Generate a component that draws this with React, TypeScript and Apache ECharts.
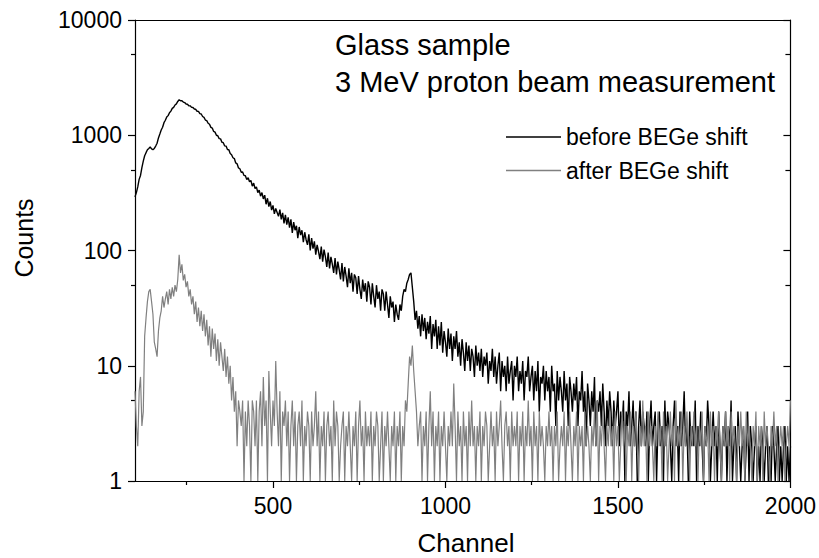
import React, { useEffect, useRef } from "react";
import * as echarts from "echarts";

const CHANNEL_START = 100;
const CHANNEL_STEP = 4;

// counts before BEGe shift, one value every 4 channels from 100 to 2000
const beforeShift = [
  292, 318, 356, 414, 448, 524, 596, 664, 706, 748,
  768, 790, 762, 750, 768, 806, 852, 948, 1025, 1110,
  1172, 1285, 1350, 1440, 1480, 1570, 1620, 1710, 1745, 1830,
  1870, 1965, 2030, 1990, 1995, 1940, 1920, 1865, 1860, 1805,
  1800, 1745, 1740, 1690, 1680, 1615, 1610, 1540, 1530, 1455,
  1430, 1355, 1340, 1270, 1245, 1170, 1155, 1080, 1065, 1000,
  990, 935, 930, 870, 862, 808, 805, 752, 748, 695,
  678, 638, 628, 575, 565, 520, 512, 478, 480, 448,
  445, 412, 428, 395, 405, 362, 384, 345, 356, 318,
  334, 296, 318, 280, 302, 252, 284, 240, 266, 224,
  246, 208, 232, 214, 198, 226, 186, 212, 172, 204,
  168, 194, 158, 186, 142, 176, 150, 164, 128, 160,
  136, 150, 118, 144, 124, 112, 138, 100, 128, 104,
  120, 92, 112, 98, 84, 108, 80, 102, 88, 72,
  96, 70, 88, 76, 64, 86, 62, 80, 68, 56,
  78, 54, 72, 60, 48, 70, 52, 64, 44, 62,
  58, 42, 60, 46, 38, 56, 44, 52, 36, 54,
  48, 34, 52, 40, 32, 50, 38, 44, 30, 46,
  42, 30, 44, 34, 26, 40, 32, 36, 24, 34,
  28, 25, 34, 30, 40, 46, 44, 52, 56, 62,
  64, 48, 36, 25, 30, 21, 27, 18, 28, 20,
  26, 17, 24, 19, 27, 14, 23, 18, 25, 14,
  22, 15, 24, 13, 20, 16, 12, 21, 14, 19,
  11, 18, 14, 20, 12, 16, 10, 17, 13, 9,
  16, 11, 15, 9, 14, 12, 8, 15, 10, 13,
  9, 14, 8, 12, 10, 13, 7, 11, 9, 14,
  8, 12, 7, 10, 13, 6, 11, 8, 10, 6,
  12, 7, 9, 11, 5, 10, 8, 12, 6, 9,
  7, 11, 5, 9, 8, 12, 6, 8, 10, 5,
  9, 6, 11, 4, 8, 7, 10, 5, 9, 6,
  8, 4, 10, 6, 7, 3, 9, 5, 8, 6,
  4, 9, 5, 7, 3, 8, 6, 4, 7, 5,
  8, 3, 6, 5, 9, 4, 6, 2, 7, 5,
  3, 6, 4, 8, 2, 5, 4, 6, 3, 7,
  4, 2, 5, 3, 6, 4, 2, 5, 3, 4,
  6, 2, 4, 3, 5, 1, 4, 3, 6, 2,
  3, 5, 2, 4, 1, 3, 5, 2, 4, 3,
  2, 4, 1, 3, 5, 2, 3, 4, 1, 3,
  4, 2, 3, 1, 5, 2, 4, 3, 2, 1,
  3, 5, 2, 3, 1, 4, 2, 3, 6, 2,
  3, 1, 4, 2, 3, 2, 5, 1, 3, 2,
  4, 2, 1, 3, 2, 5, 3, 1, 2, 4,
  2, 3, 1, 4, 2, 1, 3, 2, 4, 1,
  3, 2, 5, 1, 2, 3, 1, 4, 2, 1,
  2, 3, 1, 2, 4, 1, 3, 2, 1, 2,
  3, 1, 2, 1, 3, 2, 1, 2, 3, 1,
  2, 1, 3, 2, 1, 2, 3, 1, 2, 1,
  2, 3, 1, 2, 1, 2,
];

// counts after BEGe shift, one value every 4 channels from 100 to 2000
const afterShift = [
  6, 3, 2, 6, 8, 3, 4, 18, 26, 36,
  44, 46, 36, 28, 16, 14, 12, 20, 26, 30,
  40, 32, 38, 44, 34, 46, 38, 48, 40, 50,
  44, 56, 92, 64, 76, 55, 62, 48, 54, 40,
  46, 34, 40, 28, 36, 24, 32, 22, 30, 20,
  28, 18, 25, 15, 22, 12, 21, 14, 19, 11,
  17, 10, 16, 12, 9, 14, 8, 12, 7, 10,
  5, 8, 4, 6, 2, 5, 4, 3, 5, 1,
  4, 2, 5, 3, 1, 5, 4, 2, 5, 1,
  4, 6, 2, 8, 3, 5, 1, 9, 4, 2,
  5, 3, 11, 4, 2, 6, 1, 4, 3, 5,
  2, 4, 1, 3, 5, 2, 4, 1, 3, 4,
  2, 5, 1, 3, 2, 4, 3, 1, 4, 2,
  3, 6, 2, 4, 1, 3, 2, 4, 1, 3,
  4, 2, 3, 1, 5, 2, 4, 3, 1, 2,
  3, 4, 1, 3, 2, 4, 2, 1, 3, 2,
  4, 1, 3, 5, 2, 3, 1, 4, 2, 3,
  2, 4, 1, 3, 2, 4, 3, 1, 2, 4,
  1, 3, 2, 4, 2, 1, 3, 2, 4, 1,
  3, 2, 4, 1, 3, 2, 5, 4, 7, 12,
  10, 15, 9, 6, 4, 2, 3, 4, 1, 3,
  2, 4, 1, 3, 6, 2, 4, 1, 3, 2,
  4, 1, 3, 2, 4, 2, 1, 3, 2, 4,
  2, 7, 3, 1, 4, 2, 3, 1, 4, 2,
  3, 1, 4, 2, 5, 2, 3, 1, 3, 2,
  4, 1, 3, 2, 4, 3, 1, 2, 4, 2,
  3, 1, 4, 2, 3, 5, 2, 1, 3, 4,
  2, 3, 1, 4, 2, 3, 2, 4, 1, 3,
  2, 4, 1, 3, 2, 5, 2, 3, 1, 4,
  2, 3, 1, 4, 2, 3, 2, 1, 3, 2,
  4, 2, 3, 1, 3, 2, 4, 1, 2, 3,
  2, 4, 1, 3, 2, 4, 2, 1, 3, 2,
  4, 1, 3, 2, 3, 1, 4, 2, 3, 2,
  1, 3, 2, 4, 2, 5, 1, 3, 2, 4,
  2, 1, 3, 2, 4, 2, 3, 1, 4, 2,
  3, 1, 2, 4, 2, 3, 1, 3, 2, 4,
  1, 3, 2, 4, 2, 1, 3, 2, 5, 2,
  3, 1, 4, 2, 3, 2, 1, 3, 2, 4,
  2, 3, 1, 4, 2, 3, 1, 2, 4, 2,
  3, 1, 5, 2, 3, 2, 4, 1, 3, 2,
  4, 2, 1, 3, 2, 4, 2, 3, 1, 3,
  2, 4, 1, 3, 2, 3, 1, 4, 2, 3,
  1, 3, 2, 4, 2, 1, 3, 2, 4, 2,
  3, 1, 4, 2, 3, 2, 1, 3, 2, 4,
  2, 3, 1, 4, 2, 3, 2, 1, 3, 2,
  4, 1, 3, 2, 3, 1, 4, 2, 3, 2,
  1, 3, 2, 4, 2, 3, 1, 2, 3, 2,
  3, 1, 2, 3, 2, 5,
];

const SERIES_NAMES = ["before BEGe shift", "after BEGe shift"];
const X_MIN = 100;
const X_MAX = 2000;
const X_MAJOR_TICKS = [500, 1000, 1500, 2000];
const X_MINOR_TICKS = [250, 750, 1250, 1750];
const Y_MIN = 1;
const Y_MAX = 10000;
const Y_MINOR_TICKS = [5, 50, 500, 5000];
const ANNOTATION_LINES = ["Glass sample", "3 MeV proton beam measurement"];
const X_TITLE = "Channel";
const Y_TITLE = "Counts";

const FONT = "'Liberation Sans', Arial, Helvetica, sans-serif";

const toPairs = (vals: number[]) =>
  vals.map((v, i) => [CHANNEL_START + i * CHANNEL_STEP, v]);

export default function App() {
  const ref = useRef<HTMLDivElement>(null);

  useEffect(() => {
    if (!ref.current) return;
    const chart = echarts.init(ref.current, undefined, { renderer: "svg" });
    const logMin = Math.log10(Y_MIN);
    const logMax = Math.log10(Y_MAX);
    const minorLog = Y_MINOR_TICKS.map((v) => Math.log10(v));
    const axisLineStyle = { color: "#000", width: 1.2 };
    const tickLine = { color: "#000", width: 1.2 };

    const option: any = {
      animation: false,
      backgroundColor: "#fff",
      textStyle: { fontFamily: FONT },
      grid: { left: 135, right: 22, top: 20, bottom: 77, containLabel: false },
      legend: {
        data: SERIES_NAMES,
        orient: "vertical",
        left: 501,
        top: 120.5,
        padding: 5,
        icon: "rect",
        itemWidth: 55,
        itemHeight: 1.5,
        itemGap: 10.5,
        textStyle: { fontSize: 23, color: "#000", fontFamily: FONT, lineHeight: 23 },
      },
      xAxis: [
        {
          type: "value",
          position: "bottom",
          min: X_MIN,
          max: X_MAX,
          axisLine: { show: true, lineStyle: axisLineStyle },
          axisTick: { show: true, length: 7, customValues: X_MAJOR_TICKS, lineStyle: tickLine },
          axisLabel: {
            customValues: X_MAJOR_TICKS,
            formatter: (v: number) => String(v),
            fontSize: 23,
            color: "#000",
            fontFamily: FONT,
            margin: 13,
          },
          splitLine: { show: false },
        },
        {
          type: "value",
          position: "bottom",
          min: X_MIN,
          max: X_MAX,
          axisLine: { show: false },
          axisTick: { show: true, length: 4, customValues: X_MINOR_TICKS, lineStyle: tickLine },
          axisLabel: { show: false },
          splitLine: { show: false },
        },
        {
          type: "value",
          position: "top",
          min: X_MIN,
          max: X_MAX,
          axisLine: { show: true, lineStyle: axisLineStyle },
          axisTick: { show: false },
          axisLabel: { show: false },
          splitLine: { show: false },
        },
      ],
      yAxis: [
        {
          type: "log",
          logBase: 10,
          position: "left",
          min: Y_MIN,
          max: Y_MAX,
          axisLine: { show: true, lineStyle: axisLineStyle },
          axisTick: { show: true, length: 7, lineStyle: tickLine },
          axisLabel: {
            formatter: (v: number) => String(Math.round(v)),
            fontSize: 23,
            color: "#000",
            fontFamily: FONT,
            margin: 13,
          },
          splitLine: { show: false },
          minorTick: { show: false },
        },
        {
          type: "value",
          position: "left",
          min: logMin,
          max: logMax,
          axisLine: { show: false },
          axisTick: { show: true, length: 4, customValues: minorLog, lineStyle: tickLine },
          axisLabel: { show: false },
          splitLine: { show: false },
        },
        {
          type: "log",
          logBase: 10,
          position: "right",
          min: Y_MIN,
          max: Y_MAX,
          axisLine: { show: true, lineStyle: axisLineStyle },
          axisTick: { show: true, inside: true, length: 7, lineStyle: tickLine },
          axisLabel: { show: false },
          splitLine: { show: false },
        },
        {
          type: "value",
          position: "right",
          min: logMin,
          max: logMax,
          axisLine: { show: false },
          axisTick: { show: true, inside: true, length: 5, customValues: minorLog, lineStyle: tickLine },
          axisLabel: { show: false },
          splitLine: { show: false },
        },
      ],
      series: [
        {
          name: SERIES_NAMES[0],
          type: "line",
          xAxisIndex: 0,
          yAxisIndex: 0,
          data: toPairs(beforeShift),
          showSymbol: false,
          symbol: "none",
          color: "#000000",
          lineStyle: { color: "#000000", width: 1.4 },
          z: 2,
        },
        {
          name: SERIES_NAMES[1],
          type: "line",
          xAxisIndex: 0,
          yAxisIndex: 0,
          data: toPairs(afterShift),
          showSymbol: false,
          symbol: "none",
          color: "#808080",
          lineStyle: { color: "#808080", width: 1.2 },
          z: 3,
        },
      ],
      graphic: [
        {
          type: "text",
          x: 335,
          y: 45,
          style: {
            text: ANNOTATION_LINES[0],
            font: `29px ${FONT}`,
            fill: "#000",
            verticalAlign: "middle",
          },
        },
        {
          type: "text",
          x: 335,
          y: 82,
          style: {
            text: ANNOTATION_LINES[1],
            font: `29px ${FONT}`,
            fill: "#000",
            verticalAlign: "middle",
          },
        },
        {
          type: "text",
          x: 466,
          y: 543,
          style: {
            text: X_TITLE,
            font: `26px ${FONT}`,
            fill: "#000",
            align: "center",
            verticalAlign: "middle",
          },
        },
        {
          type: "text",
          x: 24,
          y: 238,
          rotation: Math.PI / 2,
          style: {
            text: Y_TITLE,
            font: `25px ${FONT}`,
            fill: "#000",
            align: "center",
            verticalAlign: "middle",
          },
        },
      ],
    };

    chart.setOption(option);
    return () => chart.dispose();
  }, []);

  return (
    <div
      ref={ref}
      style={{ position: "fixed", left: 0, top: 0, width: 819, height: 558, background: "#fff" }}
    />
  );
}
